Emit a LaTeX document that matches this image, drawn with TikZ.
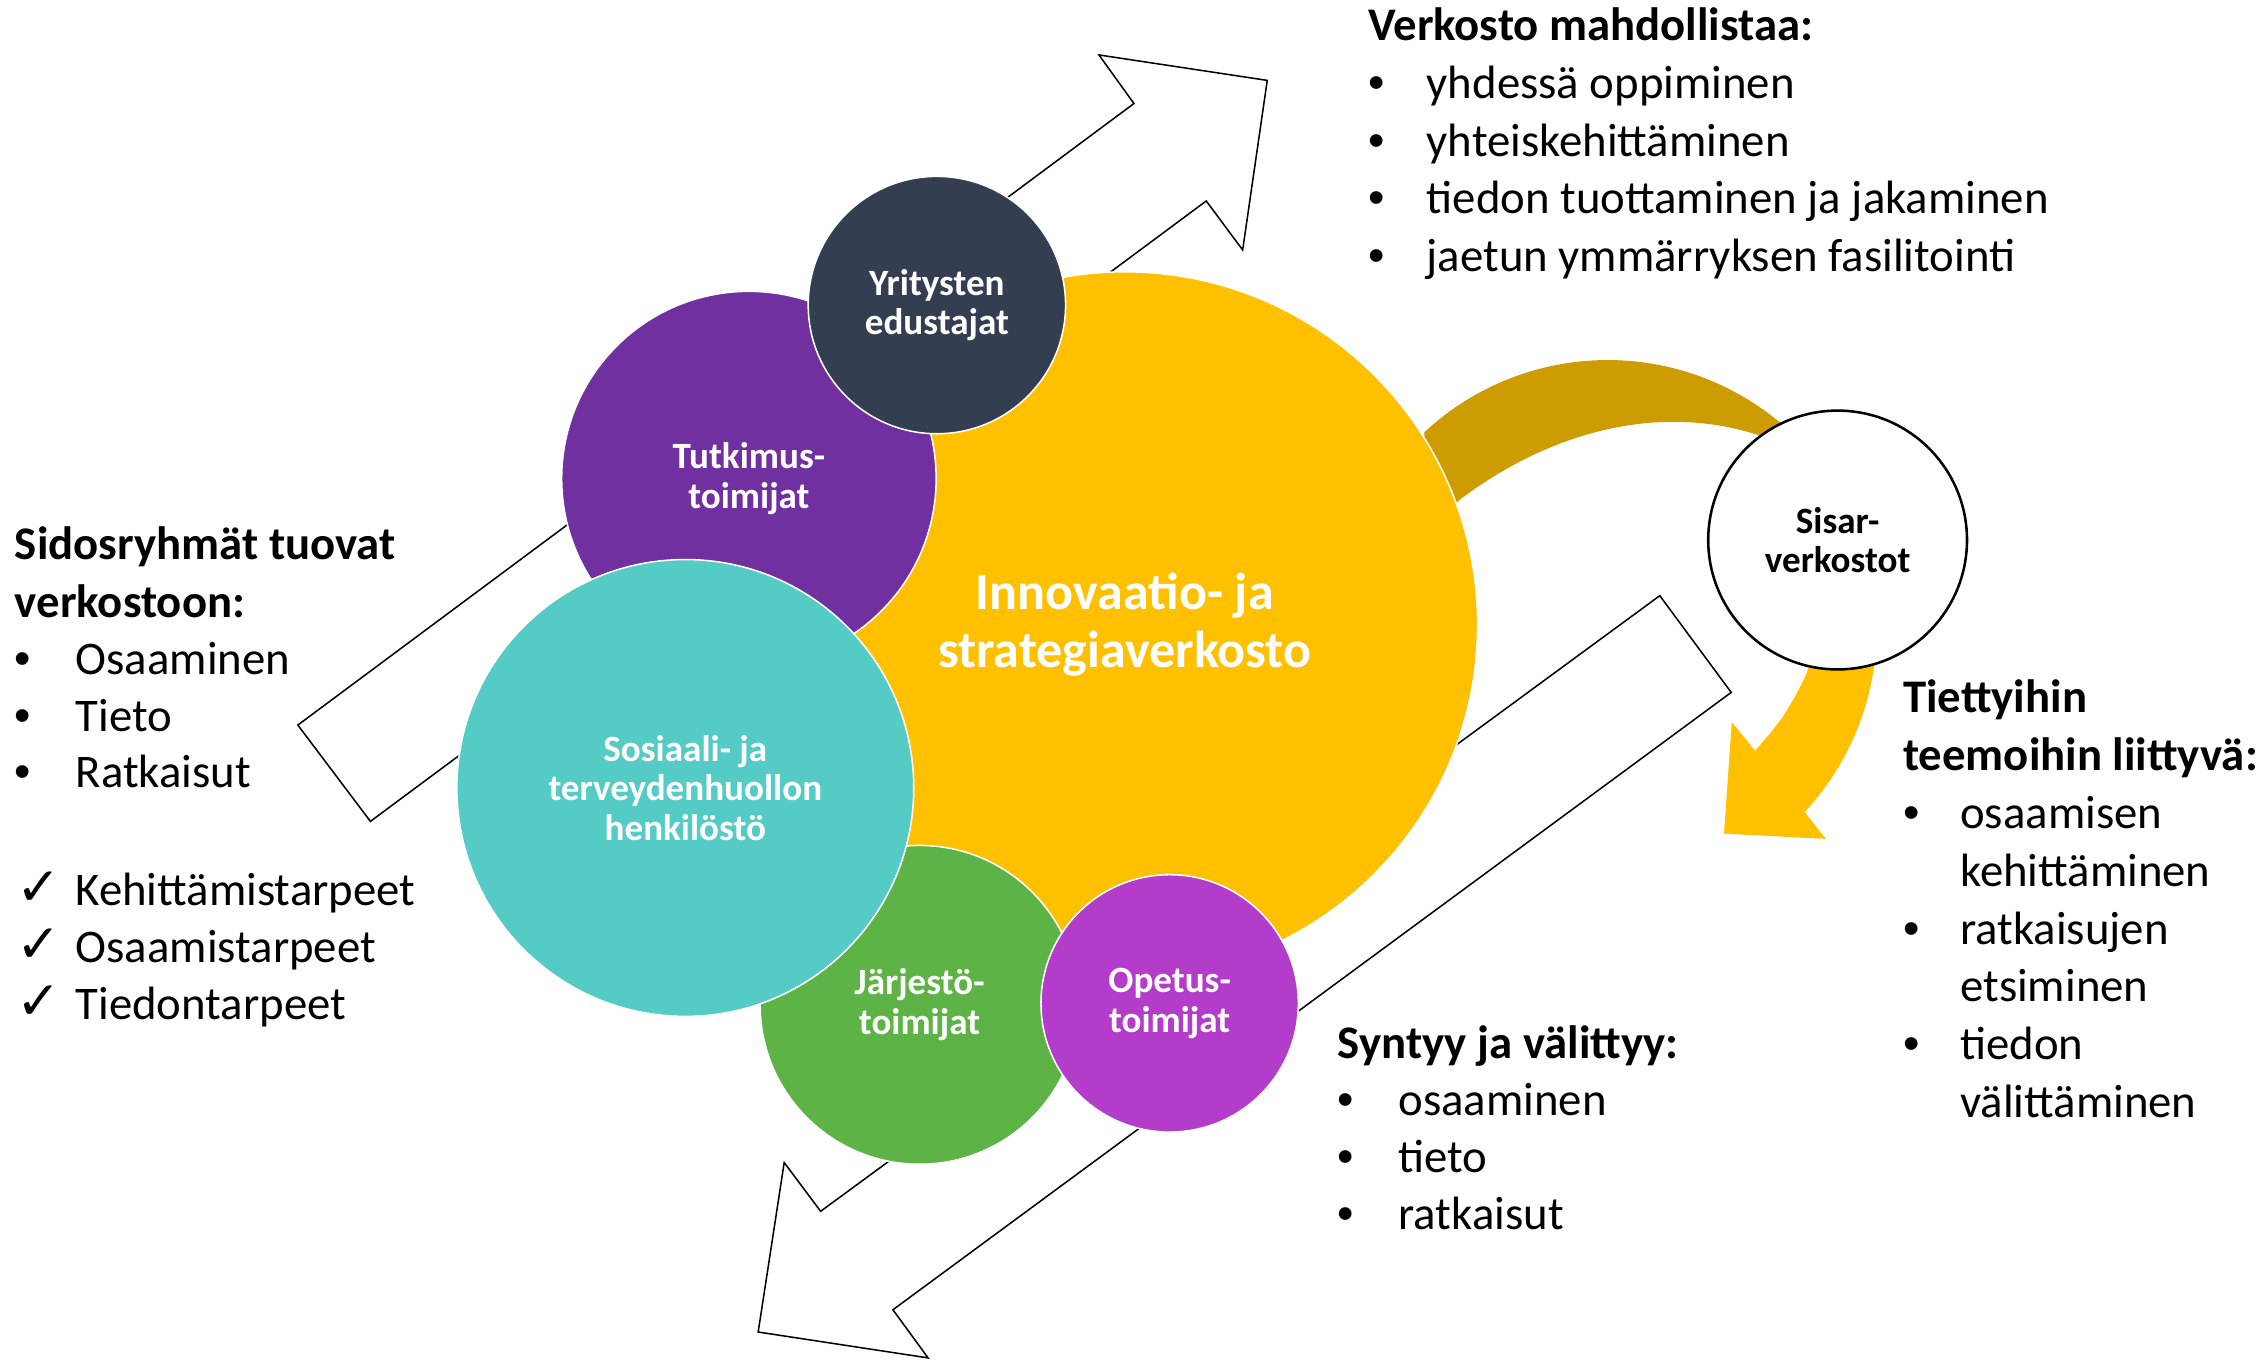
\documentclass[tikz,border=0pt]{standalone}
\usepackage{fontspec}
\setmainfont{Carlito}
\newfontfamily\bulletfont{Liberation Sans}
\newfontfamily\checkfont{DejaVu Sans}
\usepackage{tikz}

\definecolor{innoYellow}{HTML}{FFC000}
\definecolor{arcGold}{HTML}{CC9C00}
\definecolor{yritNavy}{HTML}{333F50}
\definecolor{tutkPurple}{HTML}{7030A0}
\definecolor{soteTeal}{HTML}{55CBC5}
\definecolor{jarjGreen}{HTML}{5DB346}
\definecolor{opetMagenta}{HTML}{B43CCB}

\newcommand{\blt}[1][8.1mm]{\makebox[#1][l]{\bulletfont •}}
\newcommand{\chk}{\makebox[8.4mm][l]{\hspace{0.2mm}{\checkfont\fontsize{21}{21}\selectfont ✓}}}
\newcommand{\gap}{\hspace*{7.9mm}}

\begin{document}
\begin{tikzpicture}[x=0.2mm, y=-0.2mm,
  ball/.style={draw=white, line width=0.6pt, circle, inner sep=0pt, text=white, align=center, font=\fontsize{14.6}{15.6}\selectfont\bfseries},
  txt/.style={anchor=base west, inner sep=0pt, font=\fontsize{18.4}{22}\selectfont},
  head/.style={txt, font=\fontsize{18.4}{22}\selectfont\bfseries},
  flow/.style={draw=black, fill=white, line width=0.6pt}]

\useasboundingbox (0,0) rectangle (1568,942);

% big white arrows, behind everything
\draw[flow] (206,501.5) -- (784.3,71.6) -- (760.1,38) -- (876.5,55.6) -- (859.5,172.9) -- (834.3,139) -- (256.2,568.1) -- cycle;
\draw[flow] (1148,412) -- (567.6,837.8) -- (542.4,804.1) -- (524.4,921.3) -- (641.9,939.2) -- (617.6,905.9) -- (1197.4,478.9) -- cycle;

% curved arrow round the sister networks
\fill[arcGold] (985.1,299) arc[start angle=227, end angle=320, radius=186] -- (1240,332) -- (1216.2,300.9)
  .. controls (1145,278) and (1070,300) .. (1009.4,345.8) -- (985,372) -- cycle;
\fill[innoYellow] (1298,435) arc[start angle=0, end angle=42.9, radius=186] -- (1262.8,580.2) -- (1192.4,576.6) -- (1197.8,499.5)
  -- plot[smooth] coordinates {(1213.9,519.2) (1233.6,495) (1250.9,461.7) (1256,425)} -- cycle;

% circles
\node[ball, fill=innoYellow, minimum size=97.6mm, font=\fontsize{20.5}{23.2}\selectfont\bfseries] (inno) at (778,432) {Innovaatio- ja\\strategiaverkosto};
\node[ball, fill=tutkPurple, minimum size=51.8mm] (tutk) at (518,331) {Tutkimus-\\toimijat};
\node[ball, fill=yritNavy, minimum size=35.6mm] (yrit) at (648,211) {Yritysten\\edustajat};
\node[ball, fill=jarjGreen, minimum size=44.1mm] (jarj) at (636,695) {Järjestö-\\toimijat};
\node[ball, fill=soteTeal, minimum size=63.2mm] (sote) at (474,545) {Sosiaali- ja\\terveydenhuollon\\henkilöstö};
\node[ball, fill=opetMagenta, minimum size=35.6mm] (opet) at (809,694) {Opetus-\\toimijat};
\node[ball, draw=black, line width=1pt, fill=white, text=black, minimum size=35.8mm] (sisar) at (1271,373.5) {Sisar-\\verkostot};

% text lists
\node[head] (vmHead) at (946,28) {Verkosto mahdollistaa:};
\foreach \lbl [count=\i] in {yhdessä oppiminen, yhteiskehittäminen, tiedon tuottaminen ja jakaminen, jaetun ymmärryksen fasilitointi}
  \node[txt] (vm\i) at (946, 28+40*\i) {\blt\lbl};

\node[head] (srHead1) at (10,387) {Sidosryhmät tuovat};
\node[head] (srHead2) at (10,427) {verkostoon:};
\foreach \lbl [count=\i] in {Osaaminen, Tieto, Ratkaisut}
  \node[txt] (sr\i) at (10, 427+39.3*\i) {\blt[8.4mm]\lbl};
\foreach \lbl [count=\i] in {Kehittämistarpeet, Osaamistarpeet, Tiedontarpeet}
  \node[txt] (tarve\i) at (10, 586.5+39.5*\i) {\chk\lbl};

\node[head] (svHead) at (925,732) {Syntyy ja välittyy:};
\foreach \lbl [count=\i] in {osaaminen, tieto, ratkaisut}
  \node[txt] (sv\i) at (925, 732+39.5*\i) {\blt[8.4mm]\lbl};

\node[head] (ttHead1) at (1316,493) {Tiettyihin};
\node[head] (ttHead2) at (1316,533) {teemoihin liittyvä:};
\foreach \lbl/\pre [count=\i] in {osaamisen/\blt[7.9mm], kehittäminen/\gap, ratkaisujen/\blt[7.9mm], etsiminen/\gap, tiedon/\blt[7.9mm], välittäminen/\gap}
  \node[txt] (tt\i) at (1316, 533+40*\i) {\pre\lbl};
\end{tikzpicture}
\end{document}
